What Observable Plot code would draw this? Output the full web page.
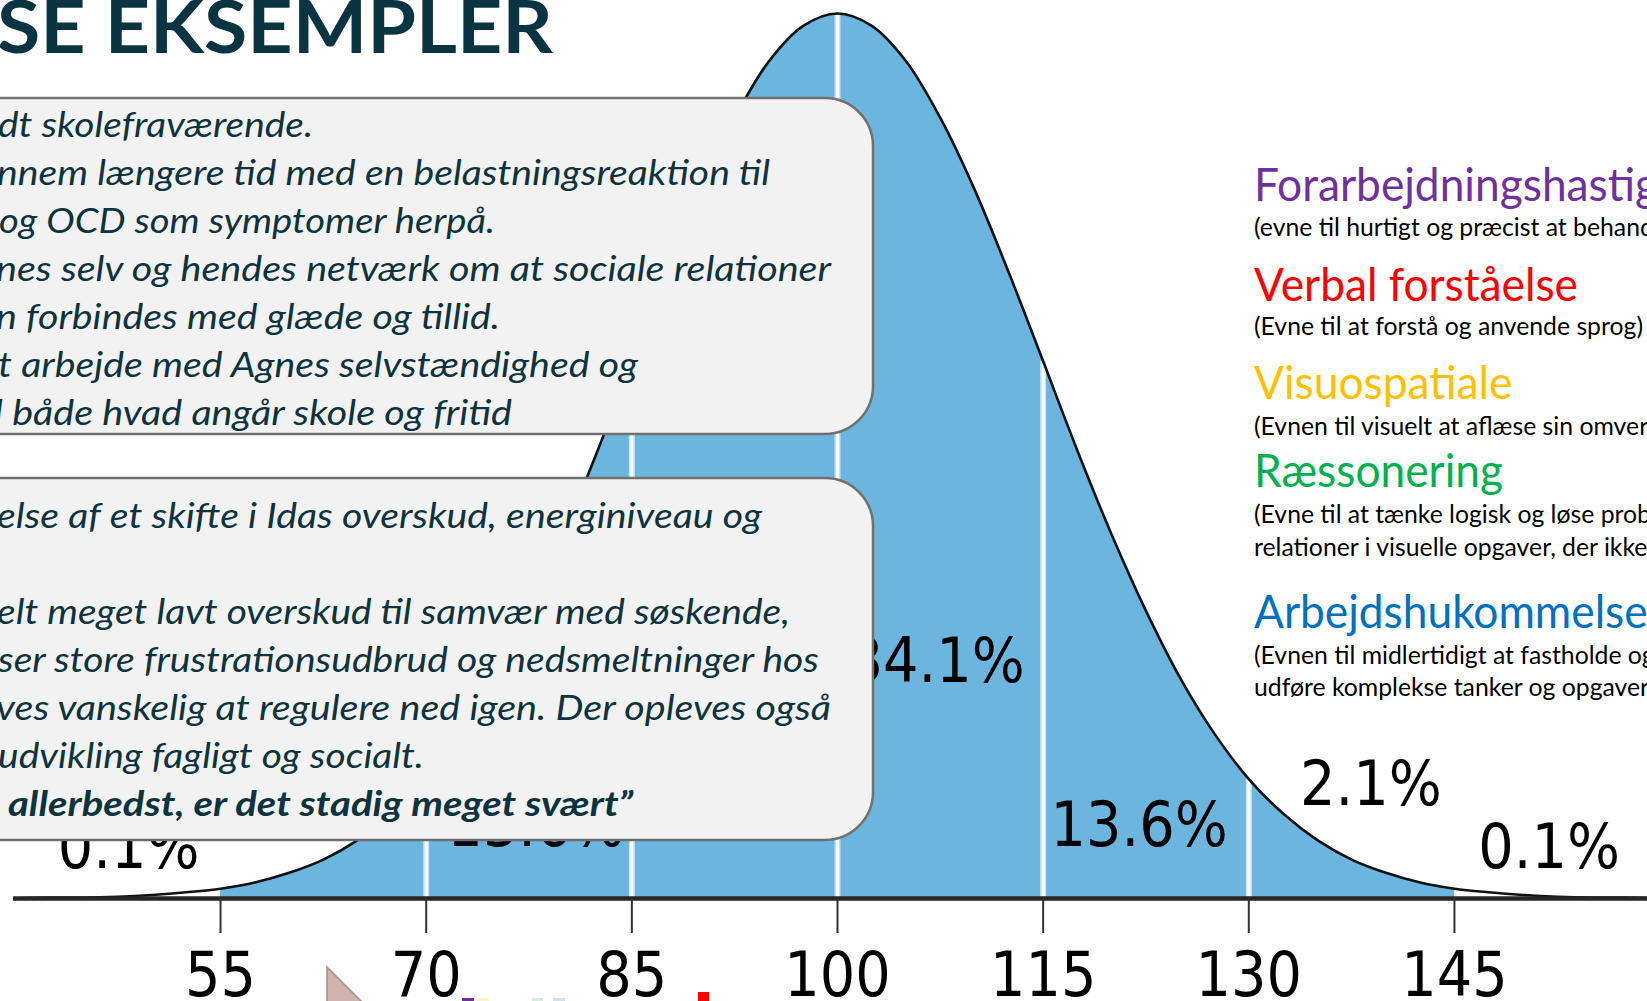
<!DOCTYPE html>
<html><head><meta charset="utf-8">
<script src="https://cdn.jsdelivr.net/npm/d3@7"></script>
<script src="https://cdn.jsdelivr.net/npm/@observablehq/plot@0.6"></script>
<style>
html,body{margin:0;padding:0;background:#fff;overflow:hidden;width:1647px;height:1001px;}
#wrap{position:relative;width:1647px;height:1001px;overflow:hidden;}
#chart{position:absolute;left:0;top:0;}
#overlay{position:absolute;left:0;top:0;}
</style></head>
<body><div id="wrap"><div id="chart"></div><svg id="overlay" width="1647" height="1001"></svg></div>
<script>
// ---- data ----
const iqValues = [40,42.5,45,47.5,50,52.5,55,57.5,60,62.5,65,67.5,70,72.5,75,77.5,80,82.5,85,87.5,90,92.5,95,97.5,100,
  102.5,105,107.5,110,112.5,115,117.5,120,122.5,125,127.5,130,132.5,135,137.5,140,142.5,145,147.5,150,152.5,155,157.5,160];
const curveHeights = [0.000,0.001,0.001,0.002,0.004,0.007,0.011,0.018,0.029,0.044,0.066,0.096,0.135,0.186,0.249,0.325,0.411,0.506,0.607,0.707,0.801,0.882,0.946,0.986,1.000,
  0.986,0.946,0.882,0.801,0.707,0.607,0.506,0.411,0.325,0.249,0.186,0.135,0.096,0.066,0.044,0.029,0.018,0.011,0.007,0.004,0.002,0.001,0.001,0.000];
const tickValues = [55,70,85,100,115,130,145];
const dividerValues = [70,85,100,115,130];
const shadedFrom = 55, shadedTo = 145;
const pctLabels = ["0.1%","2.1%","13.6%","34.1%","34.1%","13.6%","2.1%","0.1%"];
const pctIQ = [48.3,61.1,78.0,92.8,107.2,122.0,138.9,151.9];
const pctHeight = [0.035,0.106,0.059,0.245,0.245,0.059,0.106,0.035];

const titleText = "SE EKSEMPLER";
const box1Lines = ["dt skolefraværende.","nnem længere tid med en belastningsreaktion til","og OCD som symptomer herpå.",
  "nes selv og hendes netværk om at sociale relationer","n forbindes med glæde og tillid.",
  "t arbejde med Agnes selvstændighed og","l både hvad angår skole og fritid"];
const box2Lines = ["else af et skifte i Idas overskud, energiniveau og","","elt meget lavt overskud til samvær med søskende,",
  "ser store frustrationsudbrud og nedsmeltninger hos","ves vanskelig at regulere ned igen. Der opleves også",
  "udvikling fagligt og socialt.","allerbedst, er det stadig meget svært”"];
const legendHeads = ["Forarbejdningshastig","Verbal forståelse","Visuospatiale","Ræssonering","Arbejdshukommelse"];
const legendColors = ["#7030A0","#FF0000","#FFC000","#00B050","#0070C0"];
const legendDescs = [["(evne til hurtigt og præcist at behand"],["(Evne til at forstå og anvende sprog)"],
  ["(Evnen til visuelt at aflæse sin omver"],["(Evne til at tænke logisk og løse prob","relationer i visuelle opgaver, der ikke"],
  ["(Evnen til midlertidigt at fastholde og","udføre komplekse tanker og opgaver"]];

// ---- chart ----
const curve = iqValues.map((x,i)=>({x, y: curveHeights[i]}));
const shaded = curve.filter(d => d.x >= shadedFrom && d.x <= shadedTo);
const dividers = dividerValues.map(v => ({x: v, h: curveHeights[iqValues.indexOf(v)]}));
const numFont = "DejaVu Sans Condensed, DejaVu Sans, sans-serif";

const chart = Plot.plot({
  width: 1647, height: 1001,
  marginTop: 0, marginBottom: 103, marginLeft: 0, marginRight: 0,
  x: {domain: [40,160], range: [14.4, 1659.6]},
  y: {domain: [0,1], range: [898, 13], axis: null},
  style: {background: "transparent", fontFamily: numFont, fontStretch: "condensed"},
  marks: [
    Plot.areaY(shaded, {x: "x", y: "y", fill: "#6cb5de", curve: "catmull-rom"}),
    Plot.ruleX(dividers, {x: "x", y1: 0, y2: "h", stroke: "#c4e3f5", strokeWidth: 6}),
    Plot.ruleX(dividers, {x: "x", y1: 0, y2: "h", stroke: "#ffffff", strokeWidth: 3}),
    Plot.line(curve, {x: "x", y: "y", stroke: "#111", strokeWidth: 2.6, curve: "catmull-rom"}),
    Plot.ruleY([{y: 0, a: 39.9, b: 163}], {y: "y", x1: "a", x2: "b", stroke: "#262626", strokeWidth: 4.5}),
    Plot.axisX({ticks: tickValues, tickSize: 35, tickPadding: 18, fontSize: 62, stroke: "#333", strokeWidth: 2,
      color: "#000", fontFamily: numFont, tickFormat: d => String(d)}),
    Plot.text(d3.range(pctLabels.length), {x: i => pctIQ[i], y: i => pctHeight[i], text: i => pctLabels[i],
      fontSize: 62, lineAnchor: "bottom", textAnchor: "middle", fill: "#000", fontFamily: numFont})
  ]
});
document.getElementById("chart").appendChild(chart);

// ---- overlay (slide text boxes & legend) ----
const svg = d3.select("#overlay");
function fitText(str, x0, x1, y, attrs) {
  const t = svg.append("text").attr("x", x0).attr("y", y).text(str);
  for (const k in attrs) t.attr(k, attrs[k]);
  if (x1 != null) t.attr("textLength", x1 - x0).attr("lengthAdjust", "spacingAndGlyphs");
  return t;
}
function ratioText(str, x0, y, ratio, attrs) {
  const t = fitText(str, x0, null, y, attrs);
  const w = t.node().getComputedTextLength();
  t.attr("textLength", w * ratio).attr("lengthAdjust", "spacingAndGlyphs");
  return t;
}
function natural(str, attrs) {
  const t = fitText(str, 0, null, -100, attrs);
  const w = t.node().getComputedTextLength(); t.remove(); return w;
}

fitText(titleText, -3, 553, 53, {"font-family": "Lato, sans-serif", "font-weight": 700, "font-size": 73, fill: "#0b3442"});

svg.append("rect").attr("x", -60).attr("y", 98).attr("width", 933).attr("height", 336).attr("rx", 48)
  .attr("fill", "#f2f2f2").attr("stroke", "#707070").attr("stroke-width", 2.5);
svg.append("rect").attr("x", -60).attr("y", 478).attr("width", 933).attr("height", 362).attr("rx", 48)
  .attr("fill", "#f2f2f2").attr("stroke", "#707070").attr("stroke-width", 2.5);

const boxStyle = {"font-family": "Lato, sans-serif", "font-style": "italic", "font-size": 35, fill: "#0d3341"};
const box1Ends = [313,770,495,831,500,638,512];
const box1Starts = [-2,-3,-1,-4,-4,-2,-6];
box1Lines.forEach((s,i) => fitText(s, box1Starts[i], box1Ends[i], 137 + 48*i, boxStyle));
const box2Ends = [762,null,790,819,831,424,633];
const box2Starts = [-3,0,-3,-2,-4,-2,8];
box2Lines.forEach((s,i) => {
  if (!s) return;
  const st = i === 6 ? Object.assign({}, boxStyle, {"font-weight": 700}) : boxStyle;
  fitText(s, box2Starts[i], box2Ends[i], 528 + 48*i, st);
});

const headStyle = {"font-family": "Lato, sans-serif", "font-size": 47};
const descStyle = {"font-family": "Lato, sans-serif", "font-size": 25, fill: "#000"};
const headRatio = 324 / natural("Verbal forståelse", headStyle);
const descRatio = 389 / natural("(Evne til at forstå og anvende sprog)", descStyle);
const headY = [201, 301, 399, 487, 628];
const descY = [[236],[335],[435],[523,556],[664,696]];
legendHeads.forEach((s,i) => {
  ratioText(s, 1254, headY[i], headRatio, Object.assign({}, headStyle, {fill: legendColors[i]}));
  legendDescs[i].forEach((d,j) => ratioText(d, 1254, descY[i][j], descRatio, descStyle));
});

// slide fragments at the bottom edge
svg.append("polygon").attr("points", "327,967 327,1003 363,1003").attr("fill", "#cdb5ae").attr("stroke", "#b5897f").attr("stroke-width", 1.5);
const bits = [[462,998,12,"#7030A0"],[477,998,12,"#fff2cc"],[532,998,11,"#d4f0dc"],[553,998,12,"#cfe2f3"],[698,992,11,"#ff0000"]];
bits.forEach(b => svg.append("rect").attr("x", b[0]).attr("y", b[1]).attr("width", b[2]).attr("height", 1001 - b[1]).attr("fill", b[3]));
</script></body></html>
